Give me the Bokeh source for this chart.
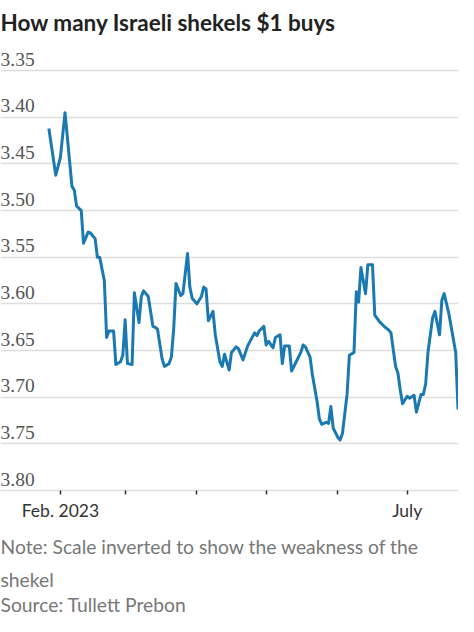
from datetime import datetime
from bokeh.plotting import figure
from bokeh.models import (ColumnDataSource, Range1d, FixedTicker, LabelSet, Title)
from bokeh.embed import file_html
from bokeh.resources import INLINE

# ---- data ----
title_text = "How many Israeli shekels $1 buys"
note_lines = ["Note: Scale inverted to show the weakness of the",
              "shekel",
              "Source: Tullett Prebon"]

dates = [
    "2023-01-27", "2023-01-30", "2023-02-01", "2023-02-03", "2023-02-06", "2023-02-07",
    "2023-02-08", "2023-02-10", "2023-02-11", "2023-02-13", "2023-02-14", "2023-02-16",
    "2023-02-17", "2023-02-18", "2023-02-20", "2023-02-21", "2023-02-22", "2023-02-24",
    "2023-02-25", "2023-02-27", "2023-02-28", "2023-03-01", "2023-03-02", "2023-03-04",
    "2023-03-05", "2023-03-07", "2023-03-08", "2023-03-09", "2023-03-11", "2023-03-13",
    "2023-03-14", "2023-03-15", "2023-03-17", "2023-03-18", "2023-03-20", "2023-03-21",
    "2023-03-22", "2023-03-23", "2023-03-25", "2023-03-26", "2023-03-28", "2023-03-29",
    "2023-03-30", "2023-04-01", "2023-04-03", "2023-04-04", "2023-04-05", "2023-04-06",
    "2023-04-08", "2023-04-09", "2023-04-11", "2023-04-12", "2023-04-13", "2023-04-15",
    "2023-04-16", "2023-04-18", "2023-04-19", "2023-04-21", "2023-04-23", "2023-04-26",
    "2023-04-27", "2023-04-28", "2023-04-30", "2023-05-01", "2023-05-02", "2023-05-04",
    "2023-05-05", "2023-05-07", "2023-05-08", "2023-05-09", "2023-05-11", "2023-05-12",
    "2023-05-14", "2023-05-16", "2023-05-17", "2023-05-18", "2023-05-20", "2023-05-21",
    "2023-05-23", "2023-05-24", "2023-05-25", "2023-05-27", "2023-05-28", "2023-05-29",
    "2023-05-30", "2023-06-01", "2023-06-02", "2023-06-03", "2023-06-05", "2023-06-06",
    "2023-06-08", "2023-06-09", "2023-06-10", "2023-06-11", "2023-06-13", "2023-06-14",
    "2023-06-16", "2023-06-17", "2023-06-19", "2023-06-21", "2023-06-23", "2023-06-24",
    "2023-06-26", "2023-06-27", "2023-06-28", "2023-06-29", "2023-07-01", "2023-07-02",
    "2023-07-04", "2023-07-05", "2023-07-07", "2023-07-08", "2023-07-09", "2023-07-10",
    "2023-07-12", "2023-07-13", "2023-07-15", "2023-07-16", "2023-07-17", "2023-07-19",
    "2023-07-20", "2023-07-22", "2023-07-23",
]

rates = [
    3.412, 3.462, 3.443, 3.395, 3.474, 3.478,
    3.495, 3.500, 3.535, 3.523, 3.524, 3.530,
    3.550, 3.550, 3.575, 3.636, 3.629, 3.629,
    3.665, 3.662, 3.655, 3.617, 3.664, 3.665,
    3.588, 3.620, 3.592, 3.586, 3.592, 3.624,
    3.625, 3.627, 3.659, 3.667, 3.664, 3.657,
    3.627, 3.578, 3.591, 3.589, 3.546, 3.582,
    3.594, 3.600, 3.592, 3.582, 3.584, 3.618,
    3.608, 3.633, 3.662, 3.667, 3.654, 3.671,
    3.652, 3.646, 3.648, 3.660, 3.645, 3.631,
    3.634, 3.629, 3.624, 3.644, 3.640, 3.647,
    3.636, 3.633, 3.664, 3.645, 3.645, 3.672,
    3.662, 3.652, 3.644, 3.646, 3.657, 3.676,
    3.704, 3.723, 3.729, 3.727, 3.728, 3.710,
    3.733, 3.743, 3.746, 3.739, 3.697, 3.655,
    3.652, 3.587, 3.598, 3.561, 3.589, 3.558,
    3.558, 3.612, 3.619, 3.624, 3.628, 3.631,
    3.667, 3.674, 3.692, 3.707, 3.699, 3.701,
    3.698, 3.716, 3.697, 3.697, 3.686, 3.652,
    3.615, 3.608, 3.633, 3.596, 3.589, 3.610,
    3.624, 3.652, 3.713,
]

y_ticks = [3.35, 3.40, 3.45, 3.50, 3.55, 3.60, 3.65, 3.70, 3.75, 3.80]
y_tick_labels = ["3.35", "3.40", "3.45", "3.50", "3.55", "3.60", "3.65", "3.70", "3.75", "3.80"]
x_ticks = ["2023-02-01", "2023-03-01", "2023-04-01", "2023-05-01", "2023-06-01", "2023-07-01"]
x_tick_labels = ["Feb. 2023", "", "", "", "", "July"]

# ---- styling ----
FONT = "Lato"
LINE_COLOR = "#1b79b2"
GRID_COLOR = "#dddddd"

to_dt = lambda s: datetime.strptime(s, "%Y-%m-%d")
x_dates = [to_dt(d) for d in dates]

W, H = 458, 616

p = figure(width=W, height=H, x_axis_type="datetime",
           output_backend="svg", toolbar_location=None,
           x_range=Range1d(datetime(2023, 1, 6, 2), datetime(2023, 7, 23, 5)),
           y_range=Range1d(3.80, 3.323),
           min_border_left=0, min_border_right=0,
           min_border_top=0, min_border_bottom=0)
p.outline_line_color = None
p.background_fill_color = "white"
p.border_fill_color = "white"

# title
p.title.text = title_text
p.title.text_font = FONT
p.title.text_font_size = "22.5px"
p.title.text_font_style = "bold"
p.title.text_color = "#222222"
p.title.align = "left"
p.title.vertical_align = "top"
p.title.offset = 0
p.title.standoff = 16

# grid
p.xgrid.visible = False
p.ygrid.ticker = FixedTicker(ticks=y_ticks)
p.ygrid.grid_line_color = GRID_COLOR
p.ygrid.grid_line_width = 1.5
p.yaxis.visible = False

# x axis
xt_ms = [to_dt(d).timestamp() * 1000.0 for d in x_ticks]
xax = p.xaxis[0]
xax.ticker = FixedTicker(ticks=xt_ms)
xax.major_label_overrides = {t: l for t, l in zip(xt_ms, x_tick_labels)}
xax.axis_line_color = GRID_COLOR
xax.axis_line_width = 1.5
xax.major_tick_line_color = "#333333"
xax.major_tick_line_width = 1.5
xax.major_tick_in = 0
xax.major_tick_out = 4
xax.minor_tick_line_color = None
xax.major_label_standoff = 5
xax.major_label_text_font = FONT
xax.major_label_text_font_size = "17.5px"
xax.major_label_text_color = "#333333"

# line
src = ColumnDataSource(dict(date=x_dates, rate=rates))
p.line("date", "rate", source=src, line_color=LINE_COLOR, line_width=3,
       line_join="round")

# y tick labels inside the frame, above their gridlines
ysrc = ColumnDataSource(dict(y=y_ticks, text=y_tick_labels, x=[0] * len(y_ticks)))
p.add_layout(LabelSet(x="x", y="y", text="text", source=ysrc,
                      x_units="screen", y_units="data", y_offset=5,
                      text_font=FONT, text_font_size="19.5px",
                      text_color="#555555", text_baseline="alphabetic"))

# notes below the axis
for txt, so in zip(note_lines, [18, -2, 2]):
    p.add_layout(Title(text=txt, text_font=FONT, text_font_size="19.3px",
                       text_font_style="normal", text_color="#777777",
                       align="left", offset=0, standoff=so), "below")

open("out.html", "w").write(file_html(p, INLINE))
